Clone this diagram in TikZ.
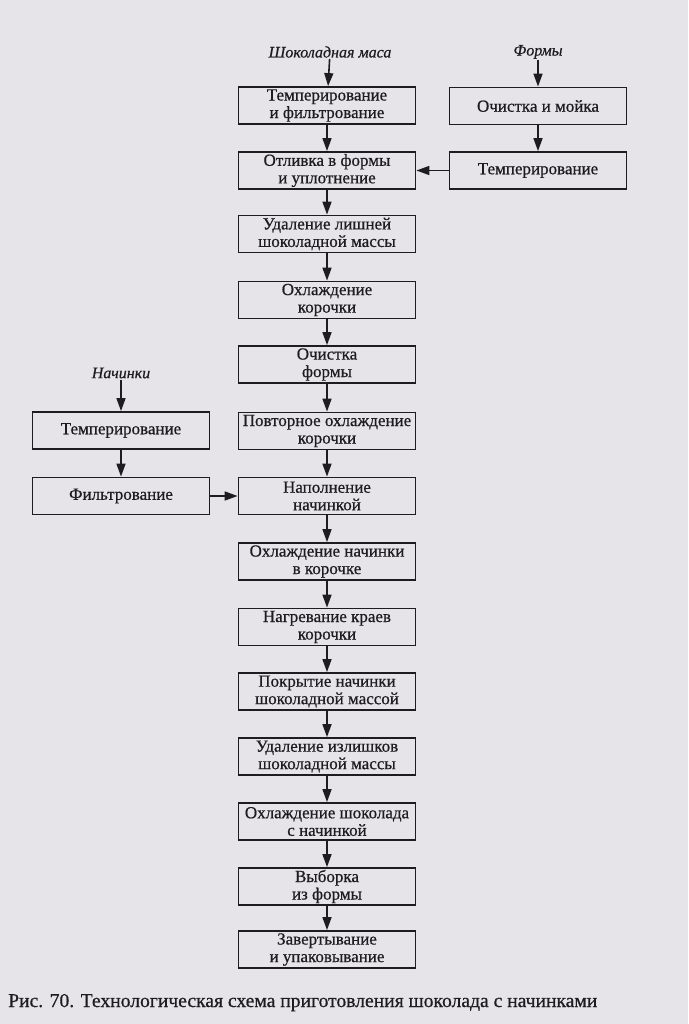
\documentclass[tikz,border=0pt]{standalone}
\usepackage{fontspec}
\setmainfont{Liberation Serif}
\newfontfamily\boxfont[FakeBold=0.6]{Liberation Serif}
\newfontfamily\labfont[FakeBold=0.6]{Liberation Serif Italic}
\usetikzlibrary{arrows.meta}
\definecolor{paper}{RGB}{230,228,232}
\definecolor{ink}{RGB}{30,28,30}
\tikzset{
  box/.style={draw=ink, line width=1.8pt, minimum width=177pt, minimum height=37pt,
    align=center, inner sep=0pt, text=ink, font=\boxfont\fontsize{17pt}{17.5pt}\selectfont},
  lab/.style={text=ink, font=\labfont\fontsize{16pt}{17pt}\selectfont, inner sep=1pt},
  flow/.style={draw=ink, line width=1.6pt, -{Triangle[length=13pt,width=9pt]}}
}
\begin{document}
\begin{tikzpicture}[x=1pt,y=-1pt]
\fill[paper] (0,0) rectangle (688,1024);
\useasboundingbox (0,0) rectangle (688,1024);
% labels
\node[lab] (sm) at (330,52) {Шоколадная маса};
\node[lab] (fo) at (538,52) {Формы};
\node[lab] (na) at (121,373) {Начинки};
% main column
\node[box] (m1) at (327,105.5) {Темперирование\\и фильтрование};
\node[box] (m2) at (327,170.5) {Отливка в формы\\и уплотнение};
\node[box] (m3) at (327,234) {Удаление лишней\\шоколадной массы};
\node[box] (m4) at (327,300) {Охлаждение\\корочки};
\node[box] (m5) at (327,364.5) {Очистка\\формы};
\node[box] (m6) at (327,431) {Повторное охлаждение\\корочки};
\node[box] (m7) at (327,496) {Наполнение\\начинкой};
\node[box] (m8) at (327,561.5) {Охлаждение начинки\\в корочке};
\node[box] (m9) at (327,627) {Нагревание краев\\корочки};
\node[box] (m10) at (327,691.5) {Покрытие начинки\\шоколадной массой};
\node[box] (m11) at (327,756.5) {Удаление излишков\\шоколадной массы};
\node[box] (m12) at (327,821.5) {Охлаждение шоколада\\с начинкой};
\node[box] (m13) at (327,886.5) {Выборка\\из формы};
\node[box] (m14) at (327,949.5) {Завертывание\\и упаковывание};
% right column
\node[box] (r1) at (538,106) {Очистка и мойка};
\node[box] (r2) at (538,170.5) {Темперирование};
% left column
\node[box] (l1) at (121,430.5) {Темперирование};
\node[box] (l2) at (121,496) {Фильтрование};
% connectors
\draw[flow] (sm) -- (m1);
\draw[flow] (fo) -- (r1);
\draw[flow] (na) -- (l1);
\draw[flow] (r1) -- (r2);
\draw[flow] (r2) -- (m2);
\draw[flow] (l1) -- (l2);
\draw[flow] (l2) -- (m7);
\foreach \a/\b in {m1/m2,m2/m3,m3/m4,m4/m5,m5/m6,m6/m7,m7/m8,m8/m9,m9/m10,m10/m11,m11/m12,m12/m13,m13/m14}
  \draw[flow] (\a) -- (\b);
% caption
\node[anchor=base west, inner sep=0pt, text=ink, font=\boxfont\fontsize{19.6pt}{21pt}\selectfont] (cap) at (8,1007) {Рис. 70. Технологическая схема приготовления шоколада с начинками};
\end{tikzpicture}
\end{document}
